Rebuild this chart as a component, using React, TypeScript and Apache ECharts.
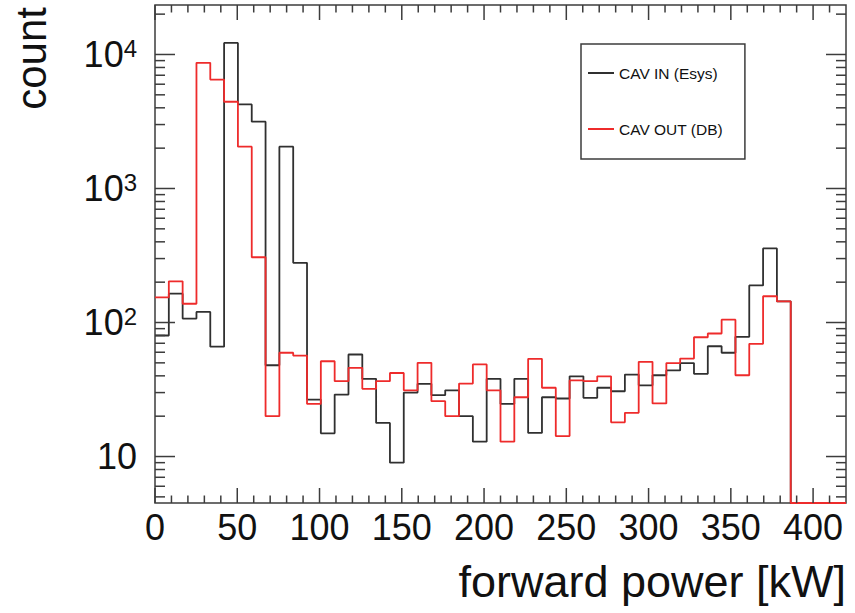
import React, { useEffect, useRef } from 'react';
import * as echarts from 'echarts';

const X_MIN = 0;
const X_MAX = 420;
const Y_MIN = 4.5;
const Y_MAX = 23400;

// bin left edges (kW), 50 bins of 8.4 kW
const BIN_EDGES = [
  0, 8.4, 16.8, 25.2, 33.6, 42, 50.4, 58.8, 67.2, 75.6,
  84, 92.4, 100.8, 109.2, 117.6, 126, 134.4, 142.8, 151.2, 159.6,
  168, 176.4, 184.8, 193.2, 201.6, 210, 218.4, 226.8, 235.2, 243.6,
  252, 260.4, 268.8, 277.2, 285.6, 294, 302.4, 310.8, 319.2, 327.6,
  336, 344.4, 352.8, 361.2, 369.6, 378, 386.4, 394.8, 403.2, 411.6, 420,
];

const CAV_IN = [
  80, 164, 107, 120, 66, 12200, 4240, 3150, 48, 2050,
  279, 26.6, 14.9, 29, 57.7, 38, 17.8, 9.0, 30, 34.9,
  28.7, 31.2, 20, 12.9, 38, 24.7, 38, 15, 27.7, 27.1,
  39.7, 27.4, 32.6, 30.7, 40.9, 34, 40.4, 43.9, 49.8, 41.4,
  66.5, 59.5, 78.2, 189, 357, 144, 0, 0, 0, 0,
];

const CAV_OUT = [
  154, 203, 138, 8670, 6500, 4440, 2050, 307, 20, 59.5,
  56.7, 24.7, 51.4, 36.5, 45.9, 32, 36.5, 42, 31.2, 50,
  25.9, 20, 35, 48.7, 31.2, 12.9, 27.7, 53.6, 32.6, 14.2,
  37, 36.5, 39.7, 18, 21.2, 50.9, 24.9, 49.8, 53.8, 77.6,
  82.8, 105, 40.4, 69.3, 157, 144, 0, 0, 0, 0,
];

const X_LABELS = [0, 50, 100, 150, 200, 250, 300, 350, 400];
const X_MAJOR_TICKS = [0, 50, 100, 150, 200, 250, 300, 350, 400];
const X_MINOR_TICKS = [
  10, 20, 30, 40, 60, 70, 80, 90, 110, 120, 130, 140, 160, 170, 180, 190,
  210, 220, 230, 240, 260, 270, 280, 290, 310, 320, 330, 340, 360, 370, 380, 390, 410,
];
const Y_MAJOR_TICKS = [10, 100, 1000, 10000];
const Y_MINOR_TICKS = [
  5, 6, 7, 8, 9,
  20, 30, 40, 50, 60, 70, 80, 90,
  200, 300, 400, 500, 600, 700, 800, 900,
  2000, 3000, 4000, 5000, 6000, 7000, 8000, 9000,
  20000,
];

const FONT = "'Liberation Sans', Arial, Helvetica, sans-serif";
const FRAME = '#3c3c3c';
const BLACK = '#303030';
const RED = '#ee2b2b';

function histPoints(values: number[]) {
  const pts: number[][] = values.map((v, i) => [BIN_EDGES[i], v > 0 ? v : Y_MIN]);
  const last = values[values.length - 1];
  pts.push([BIN_EDGES[values.length], last > 0 ? last : Y_MIN]);
  return pts;
}

export default function App() {
  const ref = useRef<HTMLDivElement>(null);
  useEffect(() => {
    if (!ref.current) return;
    const chart = echarts.init(ref.current, undefined, { renderer: 'svg' });
    const tickStyle = { stroke: FRAME, lineWidth: 1.5 };
    const option: any = {
      animation: false,
      backgroundColor: '#ffffff',
      grid: {
        left: 155, top: 5, right: 9, bottom: 110,
        show: true, borderColor: FRAME, borderWidth: 1.5, backgroundColor: 'transparent',
      },
      xAxis: {
        type: 'value', min: X_MIN, max: X_MAX, interval: 50,
        axisLine: { show: false }, axisTick: { show: false }, splitLine: { show: false },
        axisLabel: {
          margin: 6, fontSize: 36, fontFamily: FONT, color: '#111',
          showMinLabel: true, showMaxLabel: true,
          formatter: (v: number) => (X_LABELS.indexOf(v) >= 0 ? String(v) : ''),
        },
      },
      yAxis: {
        type: 'log', logBase: 10, min: Y_MIN, max: Y_MAX,
        axisLine: { show: false }, axisTick: { show: false }, splitLine: { show: false },
        axisLabel: {
          margin: 18, color: '#111',
          showMinLabel: true, showMaxLabel: true,
          formatter: (v: number) => {
            const e = Math.log10(v);
            const r = Math.round(e);
            if (Math.abs(e - r) > 1e-6 || Y_MAJOR_TICKS.indexOf(Math.pow(10, r)) < 0) return '';
            if (r === 1) return '{b|10}';
            return '{b|10}{s|' + r + '}';
          },
          rich: {
            b: { fontSize: 36, fontFamily: FONT, color: '#111' },
            s: { fontSize: 24, fontFamily: FONT, color: '#111', verticalAlign: 'top' },
          },
        },
      },
      legend: {
        orient: 'vertical', left: 581, top: 44,
        padding: [21, 22, 22, 7], itemGap: 40,
        itemWidth: 26, itemHeight: 2, icon: 'rect',
        borderColor: FRAME, borderWidth: 1.5, borderRadius: 0,
        textStyle: { fontSize: 15.5, fontFamily: FONT, color: '#111' },
        data: ['CAV IN (Esys)', 'CAV OUT (DB)'],
      },
      graphic: [
        {
          type: 'text', x: 31, y: 7, rotation: Math.PI / 2,
          style: { text: 'count', fontSize: 42, fontFamily: FONT, fill: '#111', align: 'right', verticalAlign: 'middle' },
        },
        {
          type: 'text', x: 846, y: 581,
          style: { text: 'forward power [kW]', fontSize: 45, fontFamily: FONT, fill: '#111', align: 'right', verticalAlign: 'middle' },
        },
      ],
      series: [
        {
          name: 'CAV IN (Esys)', type: 'line', step: 'end', data: histPoints(CAV_IN),
          showSymbol: false, symbol: 'none', clip: false, color: BLACK,
          lineStyle: { color: BLACK, width: 1.8 },
        },
        {
          name: 'CAV OUT (DB)', type: 'line', step: 'end', data: histPoints(CAV_OUT),
          showSymbol: false, symbol: 'none', clip: false, color: RED,
          lineStyle: { color: RED, width: 1.8 },
        },
        {
          name: 'xticks', type: 'custom', silent: true, z: 5,
          data: X_MAJOR_TICKS.map((v) => [v, 10, 1]).concat(X_MINOR_TICKS.map((v) => [v, 10, 0])),
          renderItem: (params: any, api: any) => {
            const cs = params.coordSys;
            const x = api.coord([api.value(0), 10])[0];
            const len = api.value(2) ? 15 : 7.5;
            const yb = cs.y + cs.height;
            const yt = cs.y;
            return {
              type: 'group',
              children: [
                { type: 'line', shape: { x1: x, y1: yb, x2: x, y2: yb - len }, style: tickStyle },
                { type: 'line', shape: { x1: x, y1: yt, x2: x, y2: yt + len }, style: tickStyle },
              ],
            };
          },
        },
        {
          name: 'yticks', type: 'custom', silent: true, z: 5,
          data: Y_MAJOR_TICKS.map((v) => [0, v, 1]).concat(Y_MINOR_TICKS.map((v) => [0, v, 0])),
          renderItem: (params: any, api: any) => {
            const cs = params.coordSys;
            const y = api.coord([0, api.value(1)])[1];
            const len = api.value(2) ? 20 : 10;
            const xl = cs.x;
            const xr = cs.x + cs.width;
            return {
              type: 'group',
              children: [
                { type: 'line', shape: { x1: xl, y1: y, x2: xl + len, y2: y }, style: tickStyle },
                { type: 'line', shape: { x1: xr, y1: y, x2: xr - len, y2: y }, style: tickStyle },
              ],
            };
          },
        },
      ],
    };
    chart.setOption(option);
    return () => chart.dispose();
  }, []);
  return (
    <div
      ref={ref}
      style={{ position: 'fixed', left: 0, top: 0, width: 855, height: 613, background: '#fff' }}
    />
  );
}
